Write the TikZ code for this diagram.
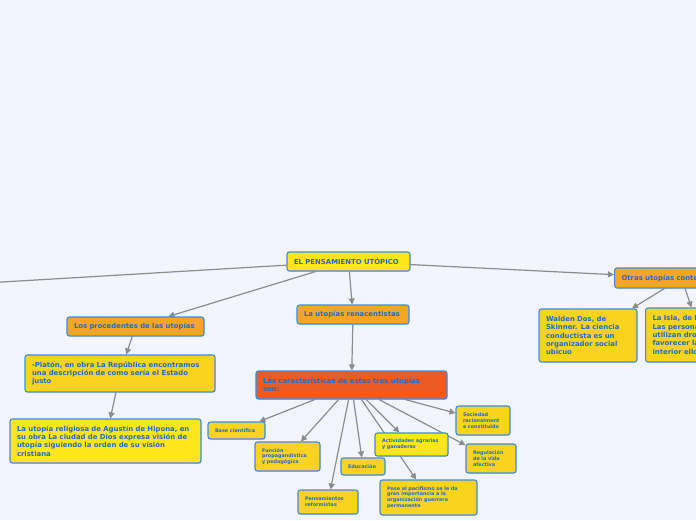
\documentclass[tikz,border=0pt]{standalone}
\usepackage{fontspec}
\setmainfont{DejaVu Sans}
\usetikzlibrary{arrows.meta, shadows}
\definecolor{BG}{RGB}{242,245,253}
\definecolor{BL}{RGB}{58,142,228}
\definecolor{TX}{RGB}{29,108,204}
\definecolor{YB}{RGB}{255,230,26}
\definecolor{YG}{RGB}{249,211,30}
\definecolor{OR}{RGB}{247,166,36}
\definecolor{RD}{RGB}{238,90,36}
\definecolor{LN}{RGB}{140,140,140}
\pgfdeclarelayer{paper}
\pgfdeclarelayer{links}
\pgfsetlayers{paper,links,main}

\begin{document}
\begin{tikzpicture}[x=1pt, y=-1pt,
  bbox/.style={draw=BL, line width=1.1pt, fill=#1, rounded corners=2.5pt,
               text=TX, align=left, inner xsep=7pt, inner ysep=0pt,
               drop shadow={opacity=0.18, shadow xshift=0.5pt, shadow yshift=-0.8pt}},
  big/.style={font=\bfseries\fontsize{6.9}{8.3}\selectfont},
  sml/.style={font=\bfseries\fontsize{4.9}{5.8}\selectfont},
  arr/.style={-{Triangle[length=6pt,width=6pt]}, line width=1.2pt, draw=LN}
]
\useasboundingbox (0,0) rectangle (696,520);
\begin{pgfonlayer}{paper}
\fill[BG] (0,0) rectangle (696,520);
\end{pgfonlayer}

% central topic and main branches
\node[bbox=YB, big, text width=109pt, minimum height=19pt] (root) at (348.5,261.5) {EL PENSAMIENTO UTÓPICO};
\node[bbox=OR, big, text width=123pt, minimum height=19pt] (proced) at (135.5,326.5) {Los procedentes de las utopías};
\node[bbox=OR, big, text width=98pt, minimum height=19pt] (renac) at (353,314.5) {La utopías renacentistas};
\node[bbox=OR, big, text width=120pt, minimum height=20pt, anchor=west] (otras) at (614,278) {Otras utopías contemporáneas};
\coordinate (far) at (-150,291);

% contemporary utopias
\node[bbox=YG, big, text width=84pt, minimum height=53pt] (walden) at (588,335.5)
  {Walden Dos, de\\Skinner. La ciencia\\conductista es un\\organizador social\\ubicuo};
\node[bbox=YG, big, text width=96pt, minimum height=54pt, anchor=west] (isla) at (645,335)
  {La Isla, de Huxley.\\Las personas\\utilizan drogas\\favorecer la paz\\interior ellos};

% antecedents
\node[bbox=YG, big, text width=176pt, minimum height=37pt] (platon) at (120,373.5)
  {-Platón, en obra La República encontramos\\una descripción de como sería el Estado\\justo};
\node[bbox=YB, big, text width=177pt, minimum height=44pt] (agustin) at (105.5,441)
  {La utopía religiosa de Agustín de Hipona, en\\su obra La ciudad de Dios expresa visión de\\utopía siguiendo la orden de su visión\\cristiana};

% renaissance utopias
\node[bbox=RD, big, text width=177pt, minimum height=28pt] (caract) at (351.5,385)
  {Las características de estas tres utopías\\son:};
\node[bbox=YG, sml, text width=43pt, minimum height=17pt] (base) at (236.5,430.5) {Base científica};
\node[bbox=YG, sml, text width=51pt, minimum height=29pt] (funcion) at (287.5,456.5) {Función\\propagandística\\y pedagógica};
\node[bbox=YG, sml, text width=46pt, minimum height=24pt] (pensam) at (328,502) {Pensamientos\\reformistas};
\node[bbox=YG, sml, text width=30pt, minimum height=17pt] (educ) at (363,466.5) {Educación};
\node[bbox=YB, sml, text width=59pt, minimum height=23pt] (activ) at (411.5,444.5) {Actividades agrarias\\y ganaderas};
\node[bbox=YG, sml, text width=83pt, minimum height=35pt] (pese) at (428.5,497.5)
  {Pese al pacifismo se le da\\gran importancia a la\\organización guerrera\\permanente};
\node[bbox=YG, sml, text width=40pt, minimum height=29pt] (socied) at (483,420.5) {Sociedad\\racionalment\\e constituida};
\node[bbox=YG, sml, text width=36pt, minimum height=29pt] (regul) at (491,458.5) {Regulación\\de la vida\\afectiva};

% connectors, behind the boxes
\begin{pgfonlayer}{links}
\draw[arr] (root) -- (far);
\foreach \a/\b in {root/proced, root/renac, root/otras, otras/walden, otras/isla,
  proced/platon, platon/agustin, renac/caract, caract/base, caract/funcion,
  caract/pensam, caract/educ, caract/activ, caract/pese, caract/socied, caract/regul}
  \draw[arr] (\a) -- (\b);
\end{pgfonlayer}
\end{tikzpicture}
\end{document}
